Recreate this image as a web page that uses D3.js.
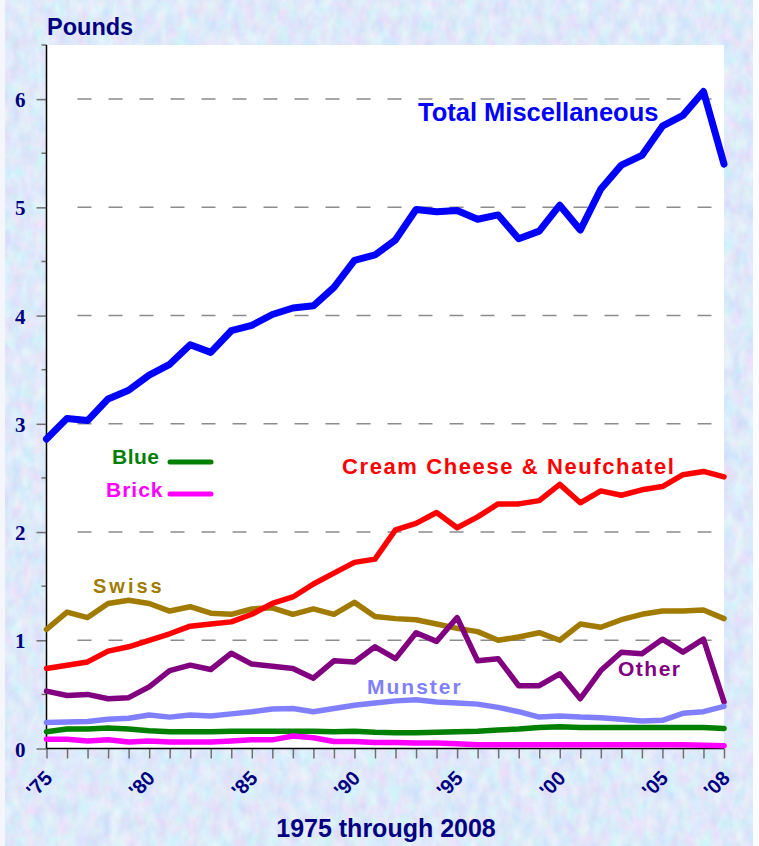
<!DOCTYPE html>
<html>
<head>
<meta charset="utf-8">
<script src="https://cdn.jsdelivr.net/npm/d3@7"></script>
<style>
  html, body { margin: 0; padding: 0; background: #c2d5f4; }
  svg { display: block; }
  text { font-family: "Liberation Sans", Arial, sans-serif; font-weight: bold; }
</style>
</head>
<body>
<div id="chart"></div>
<script>
const years = [1975, 1976, 1977, 1978, 1979, 1980, 1981, 1982, 1983, 1984, 1985, 1986,
  1987, 1988, 1989, 1990, 1991, 1992, 1993, 1994, 1995, 1996, 1997, 1998, 1999, 2000,
  2001, 2002, 2003, 2004, 2005, 2006, 2007, 2008];

const totalMisc = [2.86, 3.05, 3.03, 3.23, 3.31, 3.45, 3.55, 3.73, 3.66, 3.86, 3.91, 4.01,
  4.07, 4.09, 4.26, 4.51, 4.56, 4.70, 4.98, 4.96, 4.97, 4.89, 4.93, 4.71, 4.78, 5.02,
  4.79, 5.17, 5.39, 5.48, 5.75, 5.85, 6.07, 5.40];
const creamCheese = [0.74, 0.77, 0.80, 0.90, 0.94, 1.00, 1.06, 1.13, 1.15, 1.17, 1.24, 1.34,
  1.40, 1.52, 1.62, 1.72, 1.75, 2.02, 2.08, 2.18, 2.04, 2.14, 2.26, 2.26, 2.29, 2.44,
  2.27, 2.38, 2.34, 2.39, 2.42, 2.53, 2.56, 2.51];
const swiss = [1.10, 1.26, 1.21, 1.34, 1.37, 1.34, 1.27, 1.31, 1.25, 1.24, 1.29, 1.30,
  1.24, 1.29, 1.24, 1.35, 1.22, 1.20, 1.19, 1.15, 1.11, 1.08, 1.00, 1.03, 1.07, 1.00,
  1.15, 1.12, 1.19, 1.24, 1.27, 1.27, 1.28, 1.20];
const other = [0.53, 0.49, 0.50, 0.46, 0.47, 0.57, 0.72, 0.77, 0.73, 0.88, 0.78, 0.76,
  0.74, 0.65, 0.81, 0.80, 0.94, 0.83, 1.07, 0.99, 1.21, 0.81, 0.83, 0.58, 0.58, 0.69,
  0.46, 0.72, 0.89, 0.875, 1.01, 0.89, 1.01, 0.43];
const munster = [0.24, 0.245, 0.25, 0.27, 0.28, 0.31, 0.29, 0.31, 0.30, 0.32, 0.34, 0.365,
  0.37, 0.34, 0.37, 0.40, 0.42, 0.44, 0.45, 0.43, 0.42, 0.41, 0.38, 0.34, 0.29, 0.30,
  0.29, 0.285, 0.27, 0.255, 0.26, 0.325, 0.34, 0.39];
const blue = [0.155, 0.18, 0.18, 0.19, 0.18, 0.165, 0.155, 0.155, 0.155, 0.16, 0.16, 0.16,
  0.16, 0.16, 0.155, 0.16, 0.15, 0.145, 0.145, 0.15, 0.155, 0.16, 0.17, 0.18, 0.195, 0.20,
  0.195, 0.195, 0.195, 0.195, 0.195, 0.195, 0.195, 0.185];
const brick = [0.085, 0.085, 0.07, 0.08, 0.06, 0.07, 0.06, 0.06, 0.06, 0.07, 0.08, 0.08,
  0.115, 0.10, 0.065, 0.065, 0.055, 0.055, 0.05, 0.05, 0.045, 0.035, 0.035, 0.035, 0.035, 0.035,
  0.035, 0.035, 0.035, 0.035, 0.035, 0.035, 0.03, 0.025];

const yTicks = [0, 1, 2, 3, 4, 5, 6];
const yMinorTicks = [0.5, 1.5, 2.5, 3.5, 4.5, 5.5, 6.5];
const xLabelYears = [1975, 1980, 1985, 1990, 1995, 2000, 2005, 2008];

// drawing order matters where lines cross
const series = [
  { name: 'Swiss', values: swiss, color: '#a07b00', width: 5.5 },
  { name: 'Cream Cheese & Neufchatel', values: creamCheese, color: '#ff0000', width: 5.5 },
  { name: 'Other', values: other, color: '#800080', width: 5.5 },
  { name: 'Munster', values: munster, color: '#8080ff', width: 5.5 },
  { name: 'Blue', values: blue, color: '#008000', width: 5.5 },
  { name: 'Brick', values: brick, color: '#ff00ff', width: 5.5 },
  { name: 'Total Miscellaneous', values: totalMisc, color: '#0000ff', width: 7 }
];

const width = 759;
const height = 846;
const margin = { top: 45, right: 35, bottom: 97.5, left: 46.5 };
const navy = '#000080';

const svg = d3.select('#chart').append('svg')
  .attr('width', width)
  .attr('height', height);

// textured blue paper background
const defs = svg.append('defs');
const filter = defs.append('filter').attr('id', 'paper')
  .attr('x', 0).attr('y', 0).attr('width', '100%').attr('height', '100%');
filter.append('feTurbulence')
  .attr('type', 'fractalNoise')
  .attr('baseFrequency', '0.09 0.06')
  .attr('numOctaves', 3)
  .attr('seed', 7);
filter.append('feColorMatrix')
  .attr('type', 'matrix')
  .attr('values', '0.36 0 0 0 0.55  0 0.3 0 0 0.665  0 0 0.12 0 0.89  0 0 0 0 1');

svg.append('rect')
  .attr('width', width).attr('height', height)
  .attr('fill', '#c2d5f4');
svg.append('rect')
  .attr('width', width).attr('height', height)
  .attr('filter', 'url(#paper)');

// pale strips at the picture edges
svg.append('rect').attr('x', 0).attr('width', 5).attr('height', height).attr('fill', '#f4f6fb');
svg.append('rect').attr('x', 753).attr('width', 6).attr('height', height).attr('fill', '#fbfcfe');

const x = d3.scaleLinear()
  .domain([1975, 2008])
  .range([margin.left, width - margin.right]);

const y = d3.scaleLinear()
  .domain([0, 6.5])
  .range([height - margin.bottom, margin.top]);

// plot area
svg.append('rect')
  .attr('x', x(1975))
  .attr('y', y(6.5))
  .attr('width', x(2008) - x(1975))
  .attr('height', y(0) - y(6.5))
  .attr('fill', '#fff');

// dashed gridlines
svg.append('g')
  .selectAll('line')
  .data(yTicks.filter(d => d > 0))
  .join('line')
  .attr('x1', x(1975) + 31)
  .attr('x2', x(2008))
  .attr('y1', d => y(d))
  .attr('y2', d => y(d))
  .attr('stroke', '#8c8c8c')
  .attr('stroke-width', 1.5)
  .attr('stroke-dasharray', '14,17');

// y axis
const yAxis = svg.append('g')
  .attr('transform', `translate(${x(1975)},0)`)
  .call(d3.axisLeft(y).tickValues(yTicks).tickSize(10).tickPadding(11).tickFormat(d3.format('d')));
yAxis.select('.domain').remove();
yAxis.selectAll('.tick line').attr('stroke', '#707070').attr('stroke-width', 1.5);
yAxis.selectAll('.tick text')
  .attr('fill', navy)
  .style('font-family', '"Liberation Serif", "Times New Roman", serif')
  .style('font-size', '21px')
  .attr('dy', '0.36em');

svg.append('g')
  .selectAll('line')
  .data(yMinorTicks)
  .join('line')
  .attr('x1', x(1975) - 5)
  .attr('x2', x(1975))
  .attr('y1', d => y(d))
  .attr('y2', d => y(d))
  .attr('stroke', '#707070')
  .attr('stroke-width', 1.5);

svg.append('line')
  .attr('x1', x(1975)).attr('x2', x(1975))
  .attr('y1', y(6.5)).attr('y2', y(0))
  .attr('stroke', '#000').attr('stroke-width', 1.5);

// x axis
const xAxis = svg.append('g')
  .attr('transform', `translate(0,${y(0)})`)
  .call(d3.axisBottom(x).tickValues(years).tickSize(10).tickFormat(''));
xAxis.select('.domain').remove();
xAxis.selectAll('.tick line').attr('stroke', '#707070').attr('stroke-width', 1.5);

svg.append('line')
  .attr('x1', x(1975)).attr('x2', x(2008))
  .attr('y1', y(0)).attr('y2', y(0))
  .attr('stroke', '#000').attr('stroke-width', 1.5);

svg.append('g')
  .selectAll('text')
  .data(xLabelYears)
  .join('text')
  .attr('transform', d => `translate(${x(d) + 7},${y(0) + 31}) rotate(-45)`)
  .attr('text-anchor', 'end')
  .attr('fill', navy)
  .style('font-size', '20px')
  .text(d => "'" + String(d).slice(2));

// series lines
const line = d3.line()
  .x((d, i) => x(years[i]))
  .y(d => y(d));

svg.append('g')
  .selectAll('path')
  .data(series)
  .join('path')
  .attr('d', d => line(d.values))
  .attr('fill', 'none')
  .attr('stroke', d => d.color)
  .attr('stroke-width', d => d.width)
  .attr('stroke-linejoin', 'round')
  .attr('stroke-linecap', 'round');

// series labels
const labels = [
  { text: 'Total Miscellaneous', x: 418, y: 121, color: '#0000ff', size: 25.5, spacing: 0 },
  { text: 'Cream Cheese & Neufchatel', x: 342, y: 474, color: '#ff0000', size: 22, spacing: 1.6 },
  { text: 'Swiss', x: 93, y: 593, color: '#a07b00', size: 20, spacing: 3 },
  { text: 'Munster', x: 367, y: 694, color: '#8080ff', size: 21, spacing: 2 },
  { text: 'Other', x: 618, y: 676, color: '#800080', size: 21, spacing: 1.5 },
  { text: 'Blue', x: 112, y: 464, color: '#008000', size: 21, spacing: 0.5 },
  { text: 'Brick', x: 106, y: 497, color: '#ff00ff', size: 21, spacing: 1 }
];

svg.append('g')
  .selectAll('text')
  .data(labels)
  .join('text')
  .attr('x', d => d.x)
  .attr('y', d => d.y)
  .attr('fill', d => d.color)
  .style('font-size', d => d.size + 'px')
  .style('letter-spacing', d => d.spacing + 'px')
  .text(d => d.text);

// legend samples for Blue and Brick
const samples = [
  { color: '#008000', y: 462 },
  { color: '#ff00ff', y: 494 }
];
svg.append('g')
  .selectAll('line')
  .data(samples)
  .join('line')
  .attr('x1', 170).attr('x2', 211)
  .attr('y1', d => d.y).attr('y2', d => d.y)
  .attr('stroke', d => d.color)
  .attr('stroke-width', 5)
  .attr('stroke-linecap', 'round');

// titles
svg.append('text')
  .attr('x', 47)
  .attr('y', 35)
  .attr('fill', navy)
  .style('font-size', '23.5px')
  .text('Pounds');

svg.append('text')
  .attr('x', 386)
  .attr('y', 837)
  .attr('text-anchor', 'middle')
  .attr('fill', navy)
  .style('font-size', '25px')
  .text('1975 through 2008');
</script>
</body>
</html>
